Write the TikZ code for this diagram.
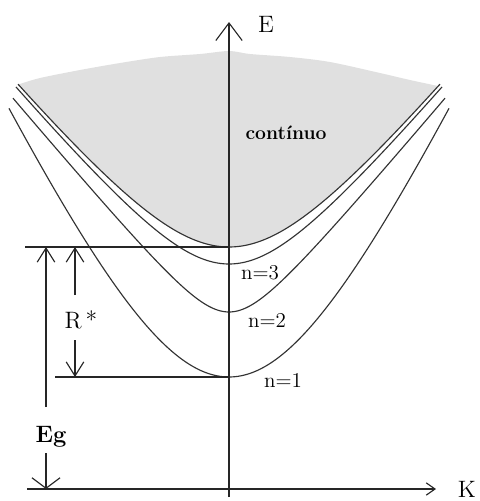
\documentclass[tikz,border=0pt]{standalone}
\usetikzlibrary{arrows.meta}
\begin{document}
\begin{tikzpicture}[x=0.02cm,y=-0.02cm,
  curve/.style={line width=0.65pt, black!80},
  axis/.style={line width=0.65pt, black!85},
  barb/.style={axis,-{Straight Barb[length=8pt,width=10pt]}},
  lbl/.style={font=\fontsize{12}{14}\selectfont, inner sep=0pt},
  big/.style={font=\fontsize{13.5}{15}\selectfont, inner sep=0pt},
  ]
\useasboundingbox (0,0) rectangle (480,501);
% continuum fill
\fill[gray!24] plot[domain=-211:211,samples=120] ({229+\x},{247-122*(sqrt((\x/100)^2+1)-1)})
  -- plot[smooth] coordinates {(438,86) (410,80) (380,73) (330,62) (290,57) (250,54) (229,51) (200,54) (160,57) (120,63) (80,70) (40,78) (20,84)} -- cycle;
% dispersion curves
\draw[curve] plot[domain=-211:211,samples=120] ({229+\x},{247-122*(sqrt((\x/100)^2+1)-1)});
\draw[curve] plot[domain=-213:213,samples=120] ({229+\x},{264-120*(sqrt((\x/100)^2+0.64)-0.8)});
\draw[curve] plot[domain=-216:216,samples=120] ({229+\x},{312-119*(sqrt((\x/100)^2+0.16)-0.4)});
\draw[curve] plot[domain=-220:220,samples=120] ({229+\x},{377-214*(sqrt((\x/100)^2+1.69)-1.3)});
% axes
\coordinate (ybot) at (229,497);
\coordinate (ytop) at (229,22);
\coordinate (xl) at (27,489);
\coordinate (xr) at (436,489);
\draw[axis,-{Straight Barb[length=10pt,width=15pt]}] (ybot) -- (ytop);
\draw[axis,-{Straight Barb[length=5pt,width=7pt]}] (xl) -- (xr);
\node[big] (E) at (266,24) {E};
\node[big] (K) at (467,489) {K};
% level lines
\coordinate (c0l) at (25,247);
\coordinate (c0) at (229,247);
\coordinate (n1l) at (55,377);
\coordinate (n1) at (229,377);
\draw[axis] (c0l) -- (c0);
\draw[axis] (n1l) -- (n1);
% labels
\node[lbl,font=\fontsize{11}{13}\selectfont\bfseries] (cont) at (286,133) {contínuo};
\node[lbl] (L3) at (260,273) {n=3};
\node[lbl] (L2) at (267,320) {n=2};
\node[lbl] (L1) at (283,380) {n=1};
% Eg
\node[big,font=\fontsize{13.5}{15}\selectfont\bfseries] (Eg) at (51,437) {Eg};
\coordinate (eg1) at (46,407);
\coordinate (egt) at (46,247);
\coordinate (eg2) at (46,453);
\coordinate (egb) at (46,489);
\draw[barb] (eg1) -- (egt);
\draw[axis,-{Straight Barb[length=6pt,width=16pt]}] (eg2) -- (egb);
% R*
\node[big] (R) at (81,320) {R\,*};
\coordinate (r1) at (75,295);
\coordinate (rt) at (75,247);
\coordinate (r2) at (75,340);
\coordinate (rb) at (75,377);
\draw[barb] (r1) -- (rt);
\draw[barb] (r2) -- (rb);
\end{tikzpicture}
\end{document}
